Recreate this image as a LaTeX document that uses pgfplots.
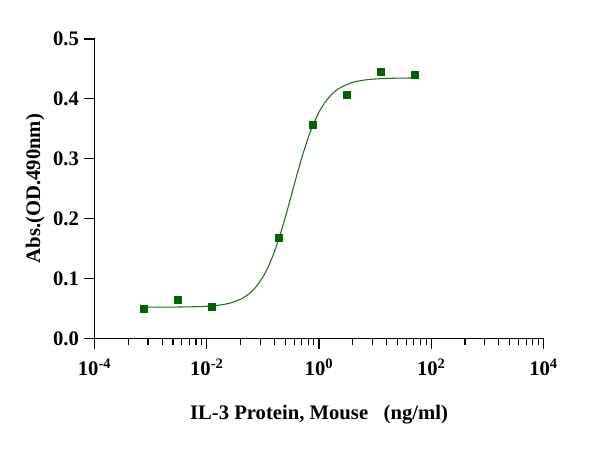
\documentclass[border=0pt]{standalone}
\usepackage{fontspec}
\setmainfont{Liberation Serif}
\usepackage{pgfplots}
\pgfplotsset{compat=1.18}
\definecolor{dkgreen}{RGB}{0,100,0}
\definecolor{lngreen}{RGB}{30,110,30}
\begin{document}
\begin{tikzpicture}
\useasboundingbox (0,0) rectangle (457.5pt,336.75pt);
\begin{axis}[
    at={(70.9pt,83pt)}, anchor=south west,
    scale only axis, width=336.75pt, height=224.5pt,
    xmode=log,
    xmin=1e-4, xmax=1e4, ymin=0, ymax=0.5,
    axis lines=left, axis line style={-, line width=0.9pt},
    tick style={line width=0.9pt, black},
    tick align=outside,
    major tick length=8pt, minor tick length=4.7pt,
    xtick={1e-4,1e-2,1,1e2,1e4},
    xticklabels={10\textsuperscript{-4},10\textsuperscript{-2},10\textsuperscript{0},10\textsuperscript{2},10\textsuperscript{4}},
    minor xtick={4e-4,9e-4,1.6e-3,2.5e-3,3.6e-3,4.9e-3,6.4e-3,8.1e-3,
                 0.04,0.09,0.16,0.25,0.36,0.49,0.64,0.81,
                 4,9,16,25,36,49,64,81,
                 400,900,1600,2500,3600,4900,6400,8100},
    ytick={0,0.1,0.2,0.3,0.4,0.5},
    yticklabel={\pgfmathprintnumber[fixed,fixed zerofill,precision=1]{\tick}},
    /pgf/number format/assume math mode=true,
    ticklabel style={font=\fontsize{15.5}{18}\selectfont\bfseries, inner sep=0pt},
    xticklabel style={anchor=base, yshift=-20pt},
    yticklabel style={anchor=east, xshift=-3.5pt},
    label style={font=\fontsize{15.5}{18}\selectfont\bfseries, inner sep=0pt},
    xlabel={IL-3 Protein, Mouse\ \ \ (ng/ml)},
    xlabel style={at={(axis description cs:0.5,-0.272)}, anchor=base},
    ylabel={Abs.(OD.490nm)},
    ylabel style={at={(axis description cs:-0.1325,0.5)}, anchor=center},
]
% fitted curve
\addplot[lngreen, line width=0.8pt, smooth, no markers] table {
x y
7.62e-4 0.0520
1.585e-3 0.0521
3.162e-3 0.0523
6.31e-3 0.0528
0.01 0.0535
0.01585 0.0552
0.02512 0.0585
0.03981 0.0652
0.05012 0.0707
0.0631 0.0782
0.07943 0.0886
0.1 0.1025
0.1259 0.1206
0.1585 0.1434
0.1995 0.1710
0.2512 0.2025
0.3162 0.2366
0.3981 0.2711
0.5012 0.3039
0.631 0.3331
0.7943 0.3579
1 0.3778
1.259 0.3933
1.585 0.4050
1.995 0.4136
2.512 0.4198
3.981 0.4275
6.31 0.4313
10 0.4332
15.85 0.4341
25.12 0.4346
50 0.4349
};
% measured points
\addplot[only marks, mark=square*, mark size=2.6pt, dkgreen] table {
x y
7.63e-4 0.049
3.05e-3 0.064
0.0122 0.052
0.195 0.168
0.781 0.356
3.125 0.407
12.5 0.446
50 0.441
};
\end{axis}
\end{tikzpicture}
\end{document}
